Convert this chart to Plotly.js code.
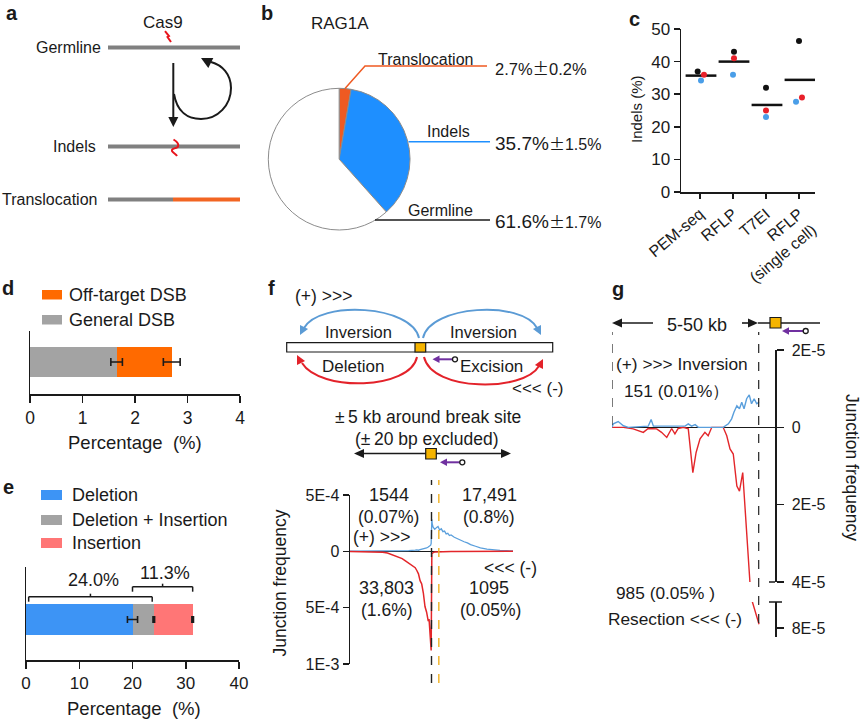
<!DOCTYPE html>
<html><head><meta charset="utf-8">
<script src="https://cdn.plot.ly/plotly-3.0.1.min.js"></script>
<style>body{margin:0;background:#fff}#chart{width:862px;height:719px}</style>
</head><body><div id="chart"></div>
<script>
// ================= DATA =================
// b: pie
const pieLabels = ['Translocation', 'Indels', 'Germline'];
const pieValues = [2.7, 35.7, 61.6];
const pieSD = ['0.2', '1.5', '1.7'];
// c: indel detection methods
const cCategories = ['PEM-seq', 'RFLP', 'T7EI', 'RFLP<br>(single cell)'];
const cRep1 = [37.0, 43.0, 32.0, 46.3];   // black
const cRep2 = [36.0, 41.0, 25.0, 29.0];   // red
const cRep3 = [34.2, 36.0, 23.0, 27.7];   // blue
const cMean = [35.7, 40.0, 26.7, 34.4];
const cTicks = [0, 10, 20, 30, 40, 50];
// d: DSB
const dSeries = ['General DSB', 'Off-target DSB'];
const dValues = [1.65, 1.05];
const dErrors = [0.11, 0.16];
const dTicks = [0, 1, 2, 3, 4];
// e: indel types
const eSeries = ['Deletion', 'Deletion + Insertion', 'Insertion'];
const eValues = [20.0, 4.0, 7.3];
const eErrors = [0.95, 0.15, 0.15];
const eBracketLabels = ['24.0%', '11.3%'];
const eTicks = [0, 10, 20, 30, 40];
// f: junctions within ±5 kb (bp, frequency x1E-4)
const fPos = [-5000,-4600,-4200,-3800,-3400,-3000,-2700,-2400,-2200,-2000,-1800,-1600,-1400,-1200,-1100,-1000,-900,-800,-700,-600,-500,-400,-300,-200,-150,-100,-50,-20,
              20,50,100,150,200,300,400,500,600,700,800,900,1000,1100,1200,1400,1600,1800,2000,2200,2400,2700,3000,3400,3800,4200,4600,5000];
const fPlus = [0.01,0.01,0.02,0.01,0.02,0.02,0.03,0.02,0.04,0.03,0.05,0.04,0.06,0.08,0.07,0.10,0.12,0.10,0.15,0.18,0.22,0.25,0.30,0.38,0.42,0.45,0.55,0.70,
               2.85,2.40,2.15,2.05,1.95,2.10,2.20,1.90,2.00,1.75,1.80,1.55,1.60,1.40,1.45,1.25,1.10,1.00,0.85,0.75,0.60,0.45,0.30,0.20,0.12,0.08,0.05,0.03];
const fMinus = [-0.01,-0.02,-0.02,-0.04,-0.05,-0.08,-0.15,-0.30,-0.40,-0.55,-0.65,-0.85,-1.05,-1.20,-1.30,-1.45,-1.70,-2.00,-2.60,-2.90,-3.70,-4.90,-5.40,-6.20,-6.00,-7.30,-7.90,-8.80,
                -0.20,-0.15,-0.10,-0.08,-0.07,-0.06,-0.05,-0.05,-0.04,-0.04,-0.03,-0.03,-0.03,-0.02,-0.02,-0.02,-0.02,-0.01,-0.01,-0.01,-0.01,-0.01,0,0,0,0,0,0];
const fTickVals = [5, 0, -5, -10];
const fTickText = ['5E-4', '0', '5E-4', '1E-3'];
// g: junctions 5-50 kb upstream (kb, frequency x1E-5)
const gPlusPos = [-50,-49.6,-48.1,-46.5,-45.0,-38.9,-38.0,-37.3,-27.6,-26.6,-25.6,-24.5,-23.5,-15.9,-14.3,-13.3,-12.6,-11.7,-10.9,-10.2,-9.5,-8.7,-7.9,-7.2,-6.4,-5.6,-4.9];
const gPlusVal = [0,0.09,0.15,0.04,0,0.03,0.20,0.03,0.03,0.09,0.03,0.07,0,0,0.09,0.22,0.39,0.56,0.48,0.65,0.48,0.74,0.84,0.61,0.74,0.61,0.65];
const gMinusPos = [-50,-46.5,-43.5,-40.4,-38.9,-36.3,-34.8,-33.2,-31.7,-30.7,-29.7,-28.1,-26.6,-25.2,-24.2,-23.0,-21.5,-20.5,-19.4,-15.9,-14.8,-13.8,-12.8,-11.7,-10.9,-9.9,-7.5,-7.0,-4.9];
const gMinusVal = [0,0,-0.04,-0.13,-0.03,-0.04,-0.13,-0.26,-0.03,-0.17,-0.03,0,-0.04,-1.17,-0.65,-0.30,-0.13,-0.22,0,0,-0.22,-0.56,-0.69,-1.52,-1.65,-1.17,-4.25,-7.3,-7.9];
const gTickVals = [2, 0, -2, -4];
const gTickText = ['2E-5', '0', '2E-5', '4E-5'];
const gLowTickVals = [-8];
const gLowTickText = ['8E-5'];

// ================= HELPERS =================
const W = 862, H = 719;
const FONT = 'Liberation Sans, Arial, Helvetica, sans-serif';
const INK = '#1a1a1a';
const PM = '<span style="font-family:Noto Sans CJK SC">±</span>';
const PMT = '±\u2009';
const px = x => x / W;
const py = y => 1 - y / H;
function pathP(segs) {
  return segs.map(s => {
    const nums = s.slice(1);
    const pairs = [];
    for (let i = 0; i < nums.length; i += 2) pairs.push(px(nums[i]).toFixed(5) + ',' + py(nums[i + 1]).toFixed(5));
    return s[0] + (pairs.length ? ' ' + pairs.join(' ') : '');
  }).join(' ');
}
function seg(x0, y0, x1, y1, color, width, dash) {
  return {type: 'line', xref: 'paper', yref: 'paper', x0: px(x0), y0: py(y0), x1: px(x1), y1: py(y1),
          line: {color: color, width: width, dash: dash || 'solid'}};
}
function rect(x0, y0, x1, y1, fill, lc, lw) {
  return {type: 'rect', xref: 'paper', yref: 'paper', x0: px(x0), y0: py(y0), x1: px(x1), y1: py(y1),
          fillcolor: fill, line: {color: lc || fill, width: lw === undefined ? 0 : lw}};
}
function circ(cx, cy, r, lc) {
  return {type: 'circle', xref: 'paper', yref: 'paper', x0: px(cx - r), y0: py(cy + r), x1: px(cx + r), y1: py(cy - r),
          fillcolor: '#fff', line: {color: lc, width: 1.3}};
}
function curve(segs, color, width) {
  return {type: 'path', xref: 'paper', yref: 'paper', path: pathP(segs), line: {color: color, width: width}, fillcolor: 'rgba(0,0,0,0)'};
}
function tri(tx, ty, dx, dy, L, Wd, color) {
  const n = Math.hypot(dx, dy); dx /= n; dy /= n;
  const bx = tx - dx * L, by = ty - dy * L, qx = -dy, qy = dx;
  return {type: 'path', xref: 'paper', yref: 'paper',
          path: pathP([['M', tx, ty], ['L', bx + qx * Wd, by + qy * Wd], ['L', bx - qx * Wd, by - qy * Wd], ['Z']]),
          fillcolor: color, line: {width: 0}};
}
function txt(text, x, y, size, opts) {
  return Object.assign({text: text, x: px(x), y: py(y), xref: 'paper', yref: 'paper', showarrow: false,
          xanchor: 'center', yanchor: 'middle', font: {family: FONT, size: size, color: INK}}, opts || {});
}
function cum(arr) { let s = 0; return arr.map(v => (s += v)); }

const shapes = [], annotations = [];

// ================= PANEL a =================
annotations.push(txt('<b>a</b>', 12, 13, 20));
annotations.push(txt('Cas9', 163, 22, 17));
annotations.push(txt('Germline', 103, 47, 16, {xanchor: 'right'}));
annotations.push(txt('Indels', 98, 146, 16, {xanchor: 'right'}));
annotations.push(txt('Translocation', 99, 199, 16, {xanchor: 'right'}));
shapes.push(seg(108, 47.5, 240, 47.5, '#808080', 4));
shapes.push(seg(108, 146.5, 240, 146.5, '#808080', 4));
shapes.push(seg(108, 199.5, 173, 199.5, '#808080', 4));
shapes.push(seg(173, 199.5, 240, 199.5, '#f26522', 4));
shapes.push(curve([['M', 165, 31], ['L', 169, 36], ['L', 167.5, 37], ['L', 171, 42]], '#e8141c', 2));
shapes.push(curve([['M', 173.5, 139.5], ['C', 176, 141, 179, 144, 178, 146.5], ['C', 176, 149, 171, 148, 172, 151], ['C', 173, 153, 176, 154, 177, 156]], '#e8141c', 2));
shapes.push(seg(173.3, 63, 173.3, 118, INK, 2));
shapes.push(tri(173.3, 127, 0, 1, 10, 5, INK));
shapes.push(curve([['M', 174, 94], ['C', 177, 112, 188, 119, 201, 119], ['C', 218, 119, 231, 105, 231, 88], ['C', 231, 74, 222, 65, 211, 62]], INK, 2));
shapes.push(tri(201, 58, -0.88, -0.45, 11, 5.5, INK));

// ================= PANEL b =================
annotations.push(txt('<b>b</b>', 267, 13, 20));
annotations.push(txt('RAG1A', 339.5, 23, 17));
shapes.push(curve([['M', 345, 88.5], ['L', 365, 66], ['L', 487, 66]], '#ef5a22', 1.5));
shapes.push(seg(408.5, 141.7, 490, 141.7, '#1e8fff', 1.5));
shapes.push(seg(375, 220, 490, 220, INK, 1.5));
annotations.push(txt(pieLabels[0], 425, 59.5, 16));
annotations.push(txt(pieLabels[1], 448, 131.5, 16));
annotations.push(txt(pieLabels[2], 440, 210.5, 16));
annotations.push(txt(pieValues[0].toFixed(1) + '%' + PM + pieSD[0] + '%', 493, 68, 16.5, {xanchor: 'left'}));
annotations.push(txt(pieValues[1].toFixed(1) + '%<span style="font-size:16px">' + PM + pieSD[1] + '%</span>', 493, 143, 19, {xanchor: 'left'}));
annotations.push(txt(pieValues[2].toFixed(1) + '%<span style="font-size:16px">' + PM + pieSD[2] + '%</span>', 493, 221, 19, {xanchor: 'left'}));

// ================= PANEL c =================
annotations.push(txt('<b>c</b>', 634, 19, 20));
annotations.push(txt('Indels (%)', 636, 109, 15, {textangle: -90}));

// ================= PANEL d =================
const dColors = ['#a3a3a3', '#ff6a00'];
annotations.push(txt('<b>d</b>', 8, 288, 20));
shapes.push(rect(42, 290, 62, 299.5, dColors[1]));
shapes.push(rect(42, 315, 62, 324.5, dColors[0]));
annotations.push(txt(dSeries[1], 67, 294.5, 18, {xanchor: 'left'}));
annotations.push(txt(dSeries[0], 67, 319.5, 18, {xanchor: 'left'}));
annotations.push(txt('Percentage  (%)', 135, 442, 18.5));

// ================= PANEL e =================
const eColors = ['#3d94f5', '#a3a3a3', '#ff7676'];
annotations.push(txt('<b>e</b>', 8, 487, 20));
[495, 520, 543].forEach((yy, i) => {
  shapes.push(rect(41, yy - 5, 62, yy + 5, eColors[i]));
  annotations.push(txt(eSeries[i], 70, yy, 18, {xanchor: 'left'}));
});
annotations.push(txt('Percentage  (%)', 134, 708, 18.5));
const eCum = cum(eValues);
const eBr = [[0.5, eCum[1] - 0.3, 596.7, eBracketLabels[0], 579.5], [eCum[0], eCum[2], 586.7, eBracketLabels[1], 573]];
eBr.forEach(b => {
  const [a0, a1, yy, lab, ly] = b;
  const mid = (a0 + a1) / 2;
  shapes.push({type: 'line', xref: 'x3', yref: 'paper', x0: a0, x1: a1, y0: py(yy), y1: py(yy), line: {color: INK, width: 1.5}});
  shapes.push({type: 'line', xref: 'x3', yref: 'paper', x0: a0, x1: a0, y0: py(yy), y1: py(yy + 5), line: {color: INK, width: 1.5}});
  shapes.push({type: 'line', xref: 'x3', yref: 'paper', x0: a1, x1: a1, y0: py(yy), y1: py(yy + 5), line: {color: INK, width: 1.5}});
  shapes.push({type: 'line', xref: 'x3', yref: 'paper', x0: mid, x1: mid, y0: py(yy), y1: py(yy - 3), line: {color: INK, width: 1.5}});
  annotations.push({text: lab, x: mid + 0.5, y: py(ly), xref: 'x3', yref: 'paper', showarrow: false, xanchor: 'center', yanchor: 'middle',
                    font: {family: FONT, size: 18, color: INK}});
});

// ================= PANEL f =================
const fBlue = '#5b9bd5', fRed = '#e3222a', purple = '#7030a0', gold = '#f5b400';
annotations.push(txt('<b>f</b>', 271, 288, 20));
annotations.push(txt('(+) >>>', 323, 296, 17.5));
shapes.push(curve([['M', 419, 338], ['C', 412, 305, 320, 300, 304, 328]], fBlue, 2));
shapes.push(tri(300, 335, -0.5, 1, 9, 4.5, fBlue));
shapes.push(curve([['M', 423, 338], ['C', 430, 305, 522, 300, 537, 328]], fBlue, 2));
shapes.push(tri(541, 335, 0.5, 1, 9, 4.5, fBlue));
shapes.push(curve([['M', 417, 357], ['C', 410, 390, 320, 392, 302, 363]], fRed, 2));
shapes.push(tri(297, 355, -0.5, -1, 9, 4.5, fRed));
shapes.push(curve([['M', 424, 357], ['C', 432, 392, 524, 392, 539, 366]], fRed, 2));
shapes.push(tri(543, 359, 0.5, -1, 9, 4.5, fRed));
shapes.push(rect(286.7, 342.7, 552.7, 352, '#ffffff', INK, 1.2));
shapes.push(rect(415, 342.7, 425.7, 352, gold, INK, 1.2));
annotations.push(txt('Inversion', 358, 332, 16.5));
annotations.push(txt('Inversion', 483, 332, 16.5));
annotations.push(txt('Deletion', 353, 366.5, 17));
annotations.push(txt('Excision', 492, 366.5, 17));
shapes.push(seg(452.5, 359.3, 438, 359.3, purple, 2));
shapes.push(tri(432.5, 359.3, -1, 0, 7, 3.8, purple));
shapes.push(circ(455, 359.3, 2.5, INK));
annotations.push(txt('<<< (-)', 538, 388, 17));
annotations.push(txt(PMT + '5 kb around break site', 428, 416.5, 17.5));
annotations.push(txt('(' + PMT + '20 bp excluded)', 426, 439, 17.5));
shapes.push(seg(362, 453.5, 503, 453.5, INK, 1.6));
shapes.push(tri(354, 453.5, -1, 0, 10, 4.5, INK));
shapes.push(tri(511, 453.5, 1, 0, 10, 4.5, INK));
shapes.push(rect(425.7, 448.5, 436.3, 459, gold, INK, 1.2));
shapes.push(seg(460, 462.3, 446, 462.3, purple, 2));
shapes.push(tri(440, 462.3, -1, 0, 7, 3.8, purple));
shapes.push(circ(462.3, 462.3, 2.5, INK));
// break-site dashed lines
shapes.push({type: 'line', xref: 'x4', yref: 'paper', x0: 0, x1: 0, y0: py(683), y1: py(480), line: {color: '#222', width: 1.4, dash: 'dash'}});
shapes.push({type: 'line', xref: 'x4', yref: 'paper', x0: 450, x1: 450, y0: py(683), y1: py(480), line: {color: '#f0b020', width: 1.4, dash: 'dash'}});
annotations.push(txt('1544', 389, 495, 18));
annotations.push(txt('(0.07%)', 388, 517, 17.5));
annotations.push(txt('17,491', 489.5, 495, 18));
annotations.push(txt('(0.8%)', 489.5, 517, 17.5));
annotations.push(txt('(+) >>>', 381.5, 537, 17.5));
annotations.push(txt('<<< (-)', 510, 568, 17.5));
annotations.push(txt('33,803', 386.5, 588, 18));
annotations.push(txt('(1.6%)', 386.5, 610, 17.5));
annotations.push(txt('1095', 489, 588, 18));
annotations.push(txt('(0.05%)', 490.5, 610, 17.5));
annotations.push(txt('Junction frequency', 279.5, 583, 17.5, {textangle: -90}));

// ================= PANEL g =================
annotations.push(txt('<b>g</b>', 618, 289, 20));
shapes.push(seg(620, 323, 653, 323, INK, 1.6));
shapes.push(tri(612, 323, -1, 0, 10, 4.5, INK));
annotations.push(txt('5-50 kb', 697, 324.5, 18));
shapes.push(seg(742, 323, 750, 323, INK, 1.6));
shapes.push(tri(758, 323, 1, 0, 10, 4.5, INK));
shapes.push(seg(758, 323, 820, 323, INK, 1.6));
shapes.push(rect(770, 317.5, 781, 328, gold, INK, 1.2));
shapes.push(seg(803.2, 331, 788, 331, purple, 2));
shapes.push(tri(782, 331, -1, 0, 7, 3.8, purple));
shapes.push(circ(805.7, 331, 2.5, INK));
shapes.push({type: 'line', xref: 'x5', yref: 'paper', x0: -50, x1: -50, y0: py(425), y1: py(332), line: {color: '#222', width: 1.2, dash: 'dash'}});
shapes.push({type: 'line', xref: 'x5', yref: 'paper', x0: -5, x1: -5, y0: py(623), y1: py(332), line: {color: '#222', width: 1.2, dash: 'dash'}});
shapes.push(seg(769, 582, 775, 582, INK, 1.5));
shapes.push(seg(769, 602, 782, 602, INK, 1.5));
annotations.push(txt('(+) >>> Inversion', 613.5, 364, 17.3, {xanchor: 'left'}));
annotations.push(txt('151 (0.01%）', 621.5, 391, 17.3, {xanchor: 'left'}));
annotations.push(txt('985 (0.05% )', 614, 593, 17.3, {xanchor: 'left'}));
annotations.push(txt('Resection <<< (-)', 606, 619, 17.3, {xanchor: 'left'}));
annotations.push(txt('Junction frequency', 852, 467, 17.5, {textangle: 90}));

// ================= TRACES =================
const traces = [];
traces.push({type: 'pie', labels: pieLabels, values: pieValues, sort: false, direction: 'clockwise', rotation: 0,
  textinfo: 'none', hoverinfo: 'none', showlegend: false,
  marker: {colors: ['#ef5a22', '#1e8fff', '#ffffff'], line: {color: '#8c8c8c', width: 1}},
  domain: {x: [px(268.3), px(410)], y: [py(230), py(88.3)]}});
// c
const cIdx = cCategories.map((_, i) => i);
const cJit1 = [-0.07, 0.03, 0, 0], cJit2 = [0.12, 0.03, 0, 0.09], cJit3 = [0.03, 0, 0, -0.09];
traces.push({type: 'scatter', mode: 'markers', x: cIdx.map(i => i + 0.03), y: cMean, xaxis: 'x', yaxis: 'y',
  marker: {symbol: 'line-ew', size: 22, line: {width: 2.5, color: '#111'}}});
[[cRep3, cJit3, '#4a9ee8'], [cRep2, cJit2, '#e8202a'], [cRep1, cJit1, '#111111']].forEach(r => {
  traces.push({type: 'scatter', mode: 'markers', x: cIdx.map(i => i + r[1][i]), y: r[0], xaxis: 'x', yaxis: 'y',
    marker: {size: 6, color: r[2]}});
});
// d
dSeries.forEach((s, i) => traces.push({type: 'bar', orientation: 'h', name: s, x: [dValues[i]], y: [0], width: 0.476,
  xaxis: 'x2', yaxis: 'y2', marker: {color: dColors[i], line: {width: 0}}}));
const dCum = cum(dValues);
traces.push({type: 'scatter', mode: 'markers', x: dCum, y: dCum.map(() => 0), xaxis: 'x2', yaxis: 'y2',
  marker: {size: 1, opacity: 0}, error_x: {type: 'data', array: dErrors, color: INK, thickness: 1.6, width: 4}});
// e
eSeries.forEach((s, i) => traces.push({type: 'bar', orientation: 'h', name: s, x: [eValues[i]], y: [0], width: 0.333,
  xaxis: 'x3', yaxis: 'y3', marker: {color: eColors[i], line: {width: 0}}}));
traces.push({type: 'scatter', mode: 'markers', x: eCum, y: eCum.map(() => 0), xaxis: 'x3', yaxis: 'y3',
  marker: {size: 1, opacity: 0}, error_x: {type: 'data', array: eErrors, color: INK, thickness: 1.6, width: 3.5}});
// f
traces.push({type: 'scatter', mode: 'lines', x: fPos, y: fPlus, xaxis: 'x4', yaxis: 'y4', line: {color: '#5a9fdc', width: 1.3}});
traces.push({type: 'scatter', mode: 'lines', x: fPos, y: fMinus, xaxis: 'x4', yaxis: 'y4', line: {color: '#e3262a', width: 1.5}});
// g
traces.push({type: 'scatter', mode: 'lines', x: gMinusPos, y: gMinusVal, xaxis: 'x5', yaxis: 'y5', line: {color: '#e3262a', width: 1.4}});
traces.push({type: 'scatter', mode: 'lines', x: gMinusPos, y: gMinusVal, xaxis: 'x5', yaxis: 'y6', line: {color: '#e3262a', width: 1.4}});
traces.push({type: 'scatter', mode: 'lines', x: gPlusPos, y: gPlusVal, xaxis: 'x5', yaxis: 'y5', line: {color: '#5a9fdc', width: 1.4}});

// ================= LAYOUT =================
const axBase = {showgrid: false, zeroline: false, showline: true, linecolor: INK, linewidth: 1.5,
  ticks: 'outside', tickcolor: INK, tickwidth: 1.5, tickfont: {family: FONT, size: 16, color: INK}, fixedrange: true};
const layout = {
  width: W, height: H, margin: {l: 0, r: 0, t: 0, b: 0}, autosize: false,
  paper_bgcolor: '#fff', plot_bgcolor: 'rgba(0,0,0,0)', showlegend: false, hovermode: false, barmode: 'stack',
  font: {family: FONT, color: INK},
  xaxis: Object.assign({}, axBase, {domain: [px(681), px(815)], range: [-0.576, 3.485], anchor: 'y',
    tickvals: cIdx, ticktext: cCategories, tickangle: -40, ticklen: 5}),
  yaxis: Object.assign({}, axBase, {domain: [py(192), py(29)], range: [0, 50], anchor: 'x', tickvals: cTicks, ticklen: 6,
    tickfont: {family: FONT, size: 17, color: INK}}),
  xaxis2: Object.assign({}, axBase, {domain: [px(30), px(240)], range: [0, 4], anchor: 'y2', tickvals: dTicks, ticklen: 7,
    tickfont: {family: FONT, size: 17.5, color: INK}}),
  yaxis2: Object.assign({}, axBase, {domain: [py(394), py(331)], range: [-0.508, 0.492], anchor: 'x2', ticks: '', showticklabels: false}),
  xaxis3: Object.assign({}, axBase, {domain: [px(26), px(239)], range: [0, 40], anchor: 'y3', tickvals: eTicks, ticklen: 7,
    tickfont: {family: FONT, size: 17, color: INK}}),
  yaxis3: Object.assign({}, axBase, {domain: [py(660), py(567)], range: [-0.435, 0.565], anchor: 'x3', ticks: '', showticklabels: false}),
  xaxis4: {domain: [px(350), px(513)], range: [-5000, 5000], anchor: 'y4', visible: false, fixedrange: true},
  yaxis4: Object.assign({}, axBase, {domain: [py(664), py(495)], range: [-10, 5], anchor: 'x4', tickvals: fTickVals, ticktext: fTickText,
    ticklen: 6, zeroline: true, zerolinecolor: INK, zerolinewidth: 1.3}),
  xaxis5: {domain: [px(612), px(775)], range: [-50, 0], anchor: 'y5', visible: false, fixedrange: true},
  yaxis5: Object.assign({}, axBase, {domain: [py(582), py(350)], range: [-4, 2], anchor: 'x5', side: 'right',
    tickvals: gTickVals, ticktext: gTickText, ticklen: 7, ticklabelstandoff: 5, zeroline: true, zerolinecolor: INK, zerolinewidth: 1.3}),
  yaxis6: Object.assign({}, axBase, {domain: [py(637), py(602)], range: [-8.23, -7.32], anchor: 'x5', side: 'right',
    tickvals: gLowTickVals, ticktext: gLowTickText, ticklen: 7, ticklabelstandoff: 5}),
  shapes: shapes, annotations: annotations
};
Plotly.newPlot('chart', traces, layout, {staticPlot: true, displayModeBar: false});
</script></body></html>
